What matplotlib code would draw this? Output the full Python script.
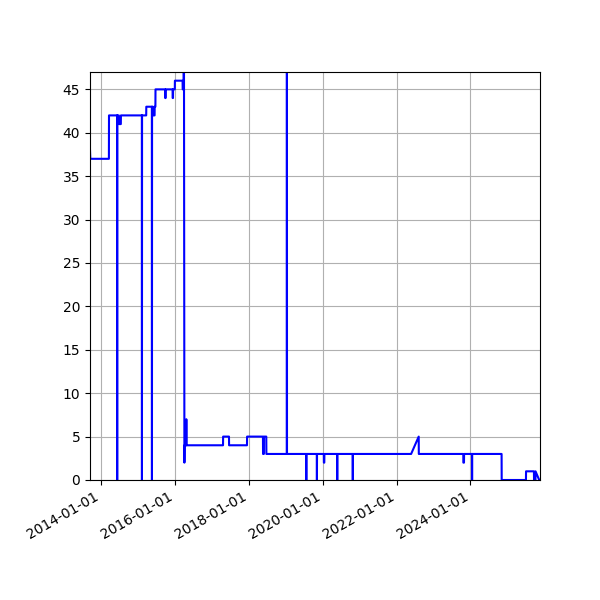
import matplotlib
matplotlib.use("Agg")
import matplotlib.pyplot as plt
import matplotlib.dates as mdates
from matplotlib.ticker import MultipleLocator
import pandas as pd

# change points of the series (date, value)
dates = [
    "2013-09-11", "2013-09-14", "2014-03-17", "2014-03-18",
    "2014-06-06", "2014-06-07", "2014-06-08",
    "2014-06-23", "2014-06-24", "2014-07-13", "2014-07-14",
    "2015-02-06", "2015-02-07", "2015-02-08",
    "2015-03-21", "2015-03-22",
    "2015-05-16", "2015-05-17", "2015-05-18",
    "2015-05-26", "2015-05-27", "2015-06-12", "2015-06-13",
    "2015-06-20", "2015-06-21",
    "2015-09-24", "2015-09-25", "2015-09-29", "2015-09-30",
    "2015-12-07", "2015-12-08", "2015-12-11", "2015-12-12",
    "2015-12-29", "2015-12-30",
    "2016-03-15", "2016-03-16", "2016-03-25", "2016-03-26",
    "2016-04-02", "2016-04-03", "2016-04-20", "2016-04-21", "2016-04-22",
    "2017-04-19", "2017-04-20", "2017-06-17", "2017-06-18",
    "2017-12-12", "2017-12-13",
    "2018-05-19", "2018-05-20", "2018-05-28", "2018-05-29", "2018-06-21", "2018-06-22",
    "2019-01-10", "2019-01-11", "2019-01-12",
    "2019-07-21", "2019-07-22", "2019-07-23",
    "2019-11-03", "2019-11-04", "2019-11-05",
    "2020-01-11", "2020-01-12", "2020-01-16", "2020-01-17",
    "2020-05-22", "2020-05-23", "2020-05-24",
    "2020-10-23", "2020-10-24", "2020-10-25",
    "2022-05-24", "2022-08-07", "2022-08-08",
    "2023-10-22", "2023-10-23", "2023-10-29", "2023-10-30",
    "2024-01-16", "2024-01-17", "2024-01-18",
    "2024-11-04", "2024-11-05",
    "2025-07-03", "2025-07-04",
    "2025-09-20", "2025-09-21", "2025-10-05", "2025-10-06",
    "2025-11-11", "2025-11-19",
]
values = [
    38, 37, 37, 42,
    42, 0, 42,
    42, 41, 41, 42,
    42, 0, 42,
    42, 43,
    43, 0, 43,
    43, 42, 42, 43,
    43, 45,
    45, 44, 44, 45,
    45, 44, 44, 45,
    45, 46,
    46, 45, 45, 80,
    2, 4, 4, 7, 4,
    4, 5, 5, 4,
    4, 5,
    5, 3, 3, 5, 5, 3,
    3, 80, 3,
    3, 0, 3,
    3, 0, 3,
    3, 2, 2, 3,
    3, 0, 3,
    3, 0, 3,
    3, 5, 3,
    3, 2, 2, 3,
    3, 0, 3,
    3, 0,
    0, 1,
    1, 0, 0, 1,
    0, 0,
]

x = pd.to_datetime(dates)

fig, ax = plt.subplots(figsize=(6, 6), dpi=100)
ax.plot(x, values, color="blue", linewidth=1.5)
ax.set_xlim(x[0], x[-1])
ax.set_ylim(0, 47)
ax.yaxis.set_major_locator(MultipleLocator(5))
ax.xaxis.set_major_locator(mdates.YearLocator(2))
ax.xaxis.set_major_formatter(mdates.DateFormatter("%Y-%m-%d"))
ax.grid(True)
fig.autofmt_xdate()
fig.subplots_adjust(left=0.15, right=0.9, top=0.88, bottom=0.2)
fig.savefig("out.png", dpi=100)
